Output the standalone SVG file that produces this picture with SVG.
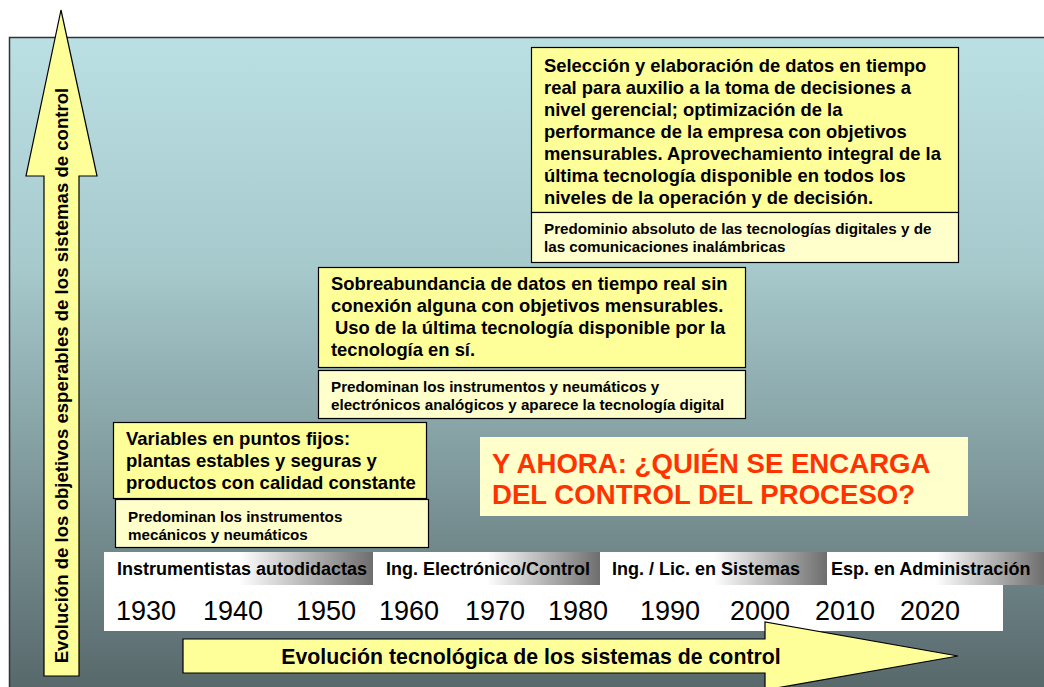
<svg xmlns="http://www.w3.org/2000/svg" width="1044" height="687" viewBox="0 0 1044 687">
<defs>
<linearGradient id="bg" x1="0" y1="0" x2="0" y2="1">
<stop offset="0" stop-color="#bbe0e4"/>
<stop offset="0.35" stop-color="#a6c9cc"/>
<stop offset="1" stop-color="#566669"/>
</linearGradient>
<linearGradient id="seg" x1="0" y1="0" x2="1" y2="0">
<stop offset="0" stop-color="#ffffff"/>
<stop offset="0.5" stop-color="#ffffff"/>
<stop offset="1" stop-color="#6e6e6e"/>
</linearGradient>
<style>
text{font-family:"Liberation Sans",Arial,Helvetica,sans-serif;fill:#000}
.main{fill:#ffff99;stroke:#000;stroke-width:1.2}
.sub{fill:#ffffcc;stroke:#000;stroke-width:1.2}
.t1{font-size:18.4px;font-weight:bold}
.t3{font-size:18.5px;font-weight:bold}
.ts{font-size:15.2px;font-weight:bold}
.lab{font-size:18px;font-weight:bold}
.yr{font-size:27px}
.red{font-size:27.6px;font-weight:bold;fill:#ff3300}
.arrow{fill:#ffff99;stroke:#000;stroke-width:1.2}
</style>
</defs>
<rect x="0" y="0" width="1044" height="687" fill="#ffffff"/>
<rect x="9.5" y="37.5" width="1040" height="660" fill="url(#bg)" stroke="#333" stroke-width="1.5"/>

<g id="box1">
<rect class="main" x="531.5" y="47.5" width="427" height="165"/>
<rect class="sub" x="531.5" y="212.5" width="427" height="50"/>
<text class="t1" x="544" y="72">Selección y elaboración de datos en tiempo</text>
<text class="t1" x="544" y="94">real para auxilio a la toma de decisiones a</text>
<text class="t1" x="544" y="116">nivel gerencial; optimización de la</text>
<text class="t1" x="544" y="138">performance de la empresa con objetivos</text>
<text class="t1" x="544" y="160">mensurables. Aprovechamiento integral de la</text>
<text class="t1" x="544" y="182">última tecnología disponible en todos los</text>
<text class="t1" x="544" y="204">niveles de la operación y de decisión.</text>
<text class="ts" x="544" y="234">Predominio absoluto de las tecnologías digitales y de</text>
<text class="ts" x="544" y="252">las comunicaciones inalámbricas</text>
</g>

<g id="box2">
<rect class="main" x="318.5" y="267.5" width="427" height="100"/>
<rect class="sub" x="318.5" y="370.5" width="427" height="48"/>
<text class="t1" x="331" y="290">Sobreabundancia de datos en tiempo real sin</text>
<text class="t1" x="331" y="312">conexión alguna con objetivos mensurables.</text>
<text class="t1" x="335" y="334">Uso de la última tecnología disponible por la</text>
<text class="t1" x="331" y="356">tecnología en sí.</text>
<text class="ts" x="331" y="392">Predominan los instrumentos y neumáticos y</text>
<text class="ts" x="331" y="410">electrónicos analógicos y aparece la tecnología digital</text>
</g>

<g id="box3">
<rect class="main" x="113.5" y="422.5" width="313" height="76"/>
<rect class="sub" x="115.5" y="499.5" width="313" height="48"/>
<text class="t3" x="126" y="445">Variables en puntos fijos:</text>
<text class="t3" x="126" y="467">plantas estables y seguras y</text>
<text class="t3" x="126" y="489">productos con calidad constante</text>
<text class="ts" x="128" y="522">Predominan los instrumentos</text>
<text class="ts" x="128" y="540">mecánicos y neumáticos</text>
</g>

<g id="question">
<rect x="480" y="437" width="488" height="79" fill="#ffffcc"/>
<text class="red" x="492" y="473">Y AHORA: ¿QUIÉN SE ENCARGA</text>
<text class="red" x="492" y="504">DEL CONTROL DEL PROCESO?</text>
</g>

<g id="profiles">
<rect x="104" y="552" width="269" height="33" fill="url(#seg)"/>
<rect x="373" y="552" width="227" height="33" fill="url(#seg)"/>
<rect x="600" y="552" width="227" height="33" fill="url(#seg)"/>
<rect x="827" y="552" width="217" height="33" fill="url(#seg)"/>
<text class="lab" x="117" y="575">Instrumentistas autodidactas</text>
<text class="lab" x="386" y="575">Ing. Electrónico/Control</text>
<text class="lab" x="612" y="575">Ing. / Lic. en Sistemas</text>
<text class="lab" x="831" y="575">Esp. en Administración</text>
</g>

<g id="years">
<rect x="104" y="585" width="899" height="46" fill="#ffffff"/>
<text class="yr" x="116" y="620">1930</text>
<text class="yr" x="203" y="620">1940</text>
<text class="yr" x="296" y="620">1950</text>
<text class="yr" x="379" y="620">1960</text>
<text class="yr" x="465" y="620">1970</text>
<text class="yr" x="548" y="620">1980</text>
<text class="yr" x="640" y="620">1990</text>
<text class="yr" x="730" y="620">2000</text>
<text class="yr" x="815" y="620">2010</text>
<text class="yr" x="900" y="620">2020</text>
</g>

<g id="connectors">
<g id="axis-x">
<polygon class="arrow" points="183,639 765,639 765,622 958,656 765,690 765,673 183,673"/>
<text x="531" y="664" text-anchor="middle" style="font-size:21.3px;font-weight:bold">Evolución tecnológica de los sistemas de control</text>
</g>
<g id="axis-y">
<polygon class="arrow" points="61,10 97,176 79,176 79,676 44,676 44,176 26,176"/>
<text transform="translate(68,375.5) rotate(-90)" text-anchor="middle" style="font-size:18.6px;font-weight:bold">Evolución de los objetivos esperables de los sistemas de control</text>
</g>
</g>
</svg>
